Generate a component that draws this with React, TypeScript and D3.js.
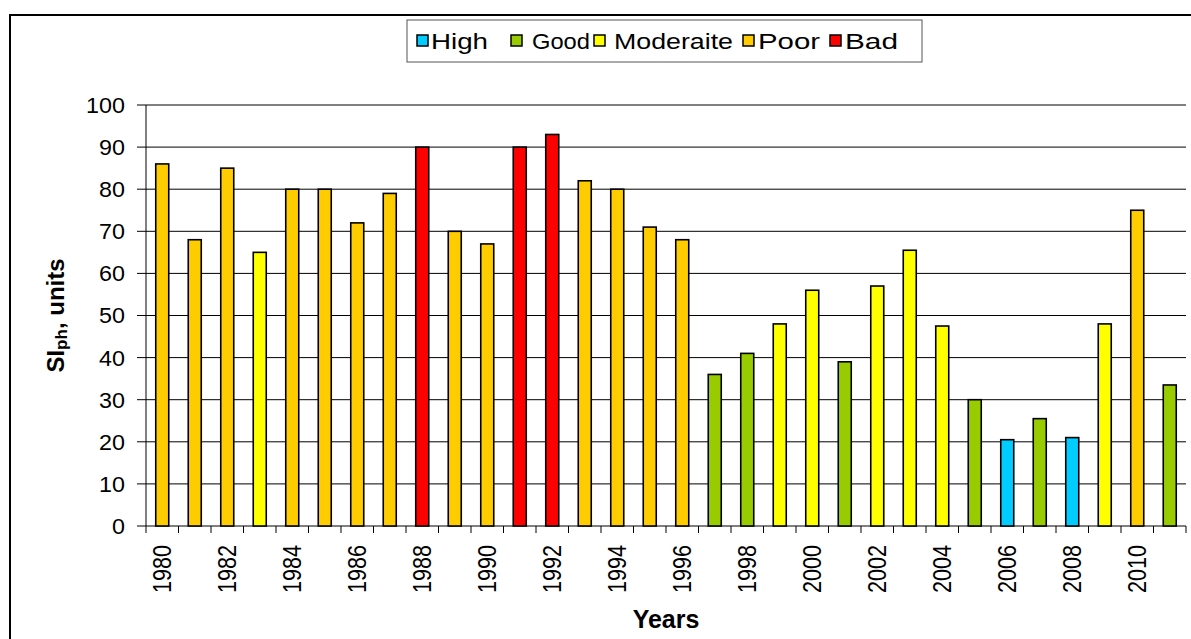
import React from "react";
import * as d3 from "d3";

const years: string[] = [
  "1980","1981","1982","1983","1984","1985","1986","1987","1988","1989",
  "1990","1991","1992","1993","1994","1995","1996","1997","1998","1999",
  "2000","2001","2002","2003","2004","2005","2006","2007","2008","2009",
  "2010","2011",
];
const values: number[] = [
  86, 68, 85, 65, 80, 80, 72, 79, 90, 70,
  67, 90, 93, 82, 80, 71, 68, 36, 41, 48,
  56, 39, 57, 65.5, 47.5, 30, 20.5, 25.5, 21, 48,
  75, 33.5,
];
const classes: string[] = [
  "Poor","Poor","Poor","Moderaite","Poor","Poor","Poor","Poor","Bad","Poor",
  "Poor","Bad","Bad","Poor","Poor","Poor","Poor","Good","Good","Moderaite",
  "Moderaite","Good","Moderaite","Moderaite","Moderaite","Good","High","Good","High","Moderaite",
  "Poor","Good",
];
const legendNames: string[] = ["High", "Good", "Moderaite", "Poor", "Bad"];
const legendColors: string[] = ["#00CCFF", "#99CC00", "#FFFF00", "#FFCC00", "#FF0000"];
const yTicks: number[] = [0, 10, 20, 30, 40, 50, 60, 70, 80, 90, 100];

const W = 1191;
const H = 639;
const left = 146;
const right = 1186;
const top = 105;
const bottom = 526;
const font = "'Liberation Sans', Arial, sans-serif";

export default function App() {
  const x = d3.scaleBand<string>().domain(years).range([left, right]).padding(0);
  const y = d3.scaleLinear().domain([0, 100]).range([bottom, top]);
  const color = d3.scaleOrdinal<string, string>().domain(legendNames).range(legendColors);
  const bw = x.bandwidth() * 0.4;
  const boundaries = [...years.map((yr) => x(yr)!), right];
  const legendSq = [417, 511, 594, 743, 830];
  const legendTx = [431, 532, 614, 758, 845];
  const legendLen = [57, 58, 119, 62, 53];

  return (
    <svg
      width={W}
      height={H}
      style={{ position: "absolute", left: 0, top: 0, background: "#fff" }}
      fontFamily={font}
    >
      <rect x={10} y={15} width={W + 20} height={H + 20} fill="#fff" stroke="#000" strokeWidth={2} />
      {/* gridlines */}
      {yTicks.map((t) => (
        <line key={"g" + t} x1={left - 9} x2={right} y1={y(t)} y2={y(t)} stroke="#000" strokeWidth={1} />
      ))}
      {/* y axis */}
      <line x1={left} x2={left} y1={top} y2={bottom} stroke="#000" strokeWidth={1} />
      {yTicks.map((t) => (
        <text
          key={"yl" + t}
          transform={`translate(125,${y(t)}) scale(1.06,1)`}
          dy="0.36em"
          textAnchor="end"
          fontSize={22}
          fill="#000"
        >
          {t}
        </text>
      ))}
      {/* x ticks */}
      {boundaries.map((b, i) => (
        <line key={"xt" + i} x1={b} x2={b} y1={bottom} y2={bottom + 7} stroke="#000" strokeWidth={1} />
      ))}
      {/* bars */}
      {years.map((yr, i) => (
        <rect
          key={"b" + yr}
          x={x(yr)! + (x.bandwidth() - bw) / 2}
          y={y(values[i])}
          width={bw}
          height={bottom - y(values[i])}
          fill={color(classes[i])}
          stroke="#000"
          strokeWidth={1.6}
        />
      ))}
      {/* x labels */}
      {years.map((yr, i) =>
        i % 2 === 0 ? (
          <text
            key={"xl" + yr}
            transform={`translate(${x(yr)! + x.bandwidth() / 2},${545}) scale(1.16,1) rotate(-90)`}
            textAnchor="end"
            dy="0.36em"
            fontSize={21.6}
            fill="#000"
          >
            {yr}
          </text>
        ) : null
      )}
      {/* axis titles */}
      <text x={(left + right) / 2} y={628} textAnchor="middle" fontSize={25} fontWeight="bold" fill="#000">
        Years
      </text>
      <text
        transform={`translate(64,${(top + bottom) / 2}) rotate(-90)`}
        textAnchor="middle"
        fontSize={24}
        fontWeight="bold"
        fill="#000"
      >
        SI<tspan fontSize={17} dy={3}>ph</tspan>
        <tspan dy={-3}>, units</tspan>
      </text>
      {/* legend */}
      <rect x={407} y={20} width={515} height={42} fill="#fff" stroke="#555" strokeWidth={1} />
      {legendNames.map((n, i) => (
        <g key={"lg" + n}>
          <rect x={legendSq[i]} y={35} width={11} height={11} fill={legendColors[i]} stroke="#000" strokeWidth={1.5} />
          <text
            x={legendTx[i]}
            y={41}
            dy="0.36em"
            fontSize={22}
            textLength={legendLen[i]}
            lengthAdjust="spacingAndGlyphs"
            fill="#000"
          >
            {n}
          </text>
        </g>
      ))}
    </svg>
  );
}
